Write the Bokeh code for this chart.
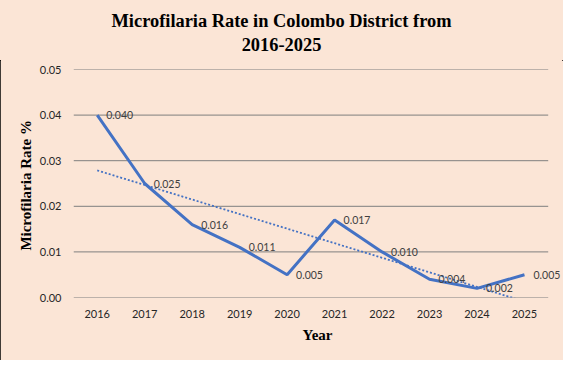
import numpy as np
from bokeh.plotting import figure
from bokeh.layouts import column
from bokeh.models import (ColumnDataSource, FixedTicker, NumeralTickFormatter, Div,
                          Range1d, LabelSet)
from bokeh.core.properties import value
from bokeh.embed import file_html
from bokeh.resources import INLINE

# ---- data ----
years = ["2016", "2017", "2018", "2019", "2020", "2021", "2022", "2023", "2024", "2025"]
rates = [0.040, 0.025, 0.016, 0.011, 0.005, 0.017, 0.010, 0.004, 0.002, 0.005]
y_ticks = [0.00, 0.01, 0.02, 0.03, 0.04, 0.05]
title_line1 = "Microfilaria Rate in Colombo District from"
title_line2 = "2016-2025"
x_title = "Year"
y_title = "Microfilaria  Rate %"

n = len(years)
xs = list(range(n))
labels = [f"{v:.3f}" for v in rates]
slope, intercept = np.polyfit(xs, rates, 1)
trend = [intercept + slope * i for i in xs]

src = ColumnDataSource(dict(x=xs, year=years, rate=rates, label=labels, trend=trend))
grid_src = ColumnDataSource(dict(x0=[-0.5] * len(y_ticks), x1=[n - 0.5] * len(y_ticks),
                                 y=y_ticks))

BG = "#FBE5D6"
BLUE = "#4472C4"
GRID = "#7F7F7F"
SERIF = "Liberation Serif"
SANS = "Lato"

W, H_TITLE, H_FIG = 563, 60, 300

title_div = Div(
    text=(f'<div style="font-family:\'{SERIF}\';font-weight:bold;font-size:18.4px;'
          f'line-height:24px;color:#000;text-align:center;width:{W - 6}px;'
          f'padding:9px 0 0 6px;margin:0;">{title_line1}<br>{title_line2}</div>'),
    width=W, height=H_TITLE, margin=0,
    styles={"background-color": BG})

p = figure(x_range=Range1d(-0.5, n - 0.5 + 0.28), y_range=Range1d(0, 0.05),
           width=W, height=H_FIG, output_backend="svg", toolbar_location=None,
           background_fill_color=BG, border_fill_color=BG, margin=0,
           min_border_left=73, min_border_right=2, min_border_top=9, min_border_bottom=63)
p.outline_line_color = None

# horizontal gridlines
p.segment(x0="x0", x1="x1", y0="y", y1="y", source=grid_src, line_color=GRID, line_width=1)

# lines
p.line(x="x", y="trend", source=src, line_color=BLUE, line_width=1.8, line_dash="2 2")
p.line(x="x", y="rate", source=src, line_color=BLUE, line_width=3)

labs = LabelSet(x="x", y="rate", text="label", source=src, x_offset=9, y_offset=0,
                text_align="left", text_baseline="middle", text_font=value(SANS),
                text_font_size="10.5px", text_color="#404040")
p.add_layout(labs)

p.xgrid.grid_line_color = None
p.ygrid.grid_line_color = None

# y axis
p.yaxis.ticker = FixedTicker(ticks=y_ticks)
p.yaxis.formatter = NumeralTickFormatter(format="0.00")
p.yaxis.axis_line_color = None
p.yaxis.major_tick_line_color = None
p.yaxis.minor_tick_line_color = None
p.yaxis.major_tick_out = 0
p.yaxis.major_label_standoff = 12
p.yaxis.major_label_text_font = SANS
p.yaxis.major_label_text_font_size = "11px"
p.yaxis.major_label_text_color = "#262626"
p.yaxis.axis_label = y_title
p.yaxis.axis_label_text_font = SERIF
p.yaxis.axis_label_text_font_style = "bold"
p.yaxis.axis_label_text_font_size = "15px"
p.yaxis.axis_label_text_color = "#000000"
p.yaxis.axis_label_standoff = 3

# x axis
p.xaxis.ticker = FixedTicker(ticks=xs)
p.xaxis.major_label_overrides = {i: y for i, y in zip(xs, years)}
p.xaxis.axis_line_color = None
p.xaxis.major_tick_line_color = None
p.xaxis.minor_tick_line_color = None
p.xaxis.major_tick_out = 0
p.xaxis.major_label_standoff = 12
p.xaxis.major_label_text_font = SANS
p.xaxis.major_label_text_font_size = "11px"
p.xaxis.major_label_text_color = "#262626"
p.xaxis.axis_label = x_title
p.xaxis.axis_label_text_font = SERIF
p.xaxis.axis_label_text_font_style = "bold"
p.xaxis.axis_label_text_font_size = "15px"
p.xaxis.axis_label_text_color = "#000000"
p.xaxis.axis_label_standoff = 6

layout = column(title_div, p, spacing=0, margin=0, width=W, height=H_TITLE + H_FIG,
                styles={"background-color": BG, "outline": "1px solid black",
                        "outline-offset": "-1px"})

open("out.html", "w").write(file_html(layout, INLINE))
